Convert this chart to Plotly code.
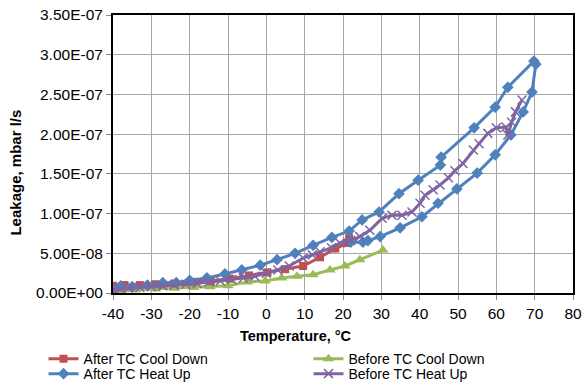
import plotly.graph_objects as go

# After TC Heat Up (blue loop)
blue_T = [-40, -38, -35, -31, -27, -23.5, -20, -15.5, -10.8, -6.4, -1.6, 2.8, 7.5, 12.2, 17.1, 21.6,
          25, 29.4, 34.6, 39.6, 45.4, 45.6, 54.2, 59.7, 63, 69.8, 70.3, 69.3, 67, 63.8, 59.7, 55,
          49.7, 44.8, 40.6, 34.9, 29.7, 26.5, 25.2, 22]
blue_L = [0.4, 0.9, 0.8, 1.0, 1.3, 1.3, 1.6, 1.9, 2.4, 2.9, 3.5, 4.2, 5.0, 6.0, 7.0, 7.8,
          9.2, 10.2, 12.5, 14.2, 16.1, 17.1, 20.8, 23.4, 25.9, 29.2, 28.8, 25.3, 22.8, 19.9, 17.4, 15.1,
          13.1, 11.3, 9.6, 8.2, 7.1, 6.6, 6.4, 6.4]

# After TC Cool Down (red)
red_T = [21.6, 21.3, 18, 14, 9.6, 4.9, 0.3, -4.5, -9.5, -14.5, -19, -24, -29, -33, -37, -40]
red_L = [6.9, 6.3, 5.6, 4.5, 3.4, 3.0, 2.6, 2.2, 1.8, 1.5, 1.4, 1.2, 1.1, 1.0, 1.0, 0.9]

# Before TC Cool Down (green)
green_T = [30.4, 24.4, 20.5, 16.6, 12.2, 8, 4, -0.3, -5, -10, -14.7, -19, -24, -29, -34, -38, -40]
green_L = [5.4, 4.2, 3.4, 2.9, 2.3, 2.1, 1.9, 1.5, 1.4, 0.9, 0.8, 0.7, 0.6, 0.5, 0.4, 0.2, 0.1]

# Before TC Heat Up (purple)
purple_T = [-40, -38, -36, -33, -30, -27, -24, -21, -18, -15, -12, -9, -6, -3, 0, 3, 6, 9.6, 12, 14,
            17, 19.2, 22, 24.4, 27, 30.2, 32.8, 35.4, 38, 40.1, 41.4, 43.5, 45.3, 47.5, 49.2, 51.3,
            54, 55.5, 57.8, 60, 62.5, 63, 64, 65, 66.7]
purple_L = [0.4, 0.5, 0.6, 0.7, 0.8, 0.9, 1.0, 1.1, 1.2, 1.4, 1.5, 1.7, 1.9, 2.1, 2.5, 2.9, 3.4, 4.4, 4.8, 5.2,
            5.7, 6.3, 6.6, 7.1, 7.9, 9.4, 9.8, 9.8, 10.2, 11.3, 12.3, 13.0, 13.6, 14.5, 15.4, 16.3,
            18.0, 18.8, 20.1, 20.8, 20.9, 19.9, 21.5, 22.8, 24.3]

SCALE = 1e-8
y_tickvals = [0, 5e-8, 1e-7, 1.5e-7, 2e-7, 2.5e-7, 3e-7, 3.5e-7]
y_ticktext = ["0.00E+00", "5.00E-08", "1.00E-07", "1.50E-07", "2.00E-07", "2.50E-07", "3.00E-07", "3.50E-07"]
x_tickvals = [-40, -30, -20, -10, 0, 10, 20, 30, 40, 50, 60, 70, 80]
x_ticktext = ["-40", "-30", "-20", "-10", "0", "10", "20", "30", "40", "50", "60", "70", "80"]
x_title = "Temperature, °C"
y_title = "Leakage, mbar l/s"

fig = go.Figure()

def add(name, T, L, color, symbol, size, legend, mline=None):
    marker = dict(symbol=symbol, size=size, color=color)
    if mline is not None:
        marker["line"] = dict(color=color, width=mline)
    fig.add_trace(go.Scatter(
        x=T, y=[v * SCALE for v in L], name=name, mode="lines+markers", showlegend=True,
        line=dict(color=color, width=3), marker=marker, legend=legend))

add("Before TC Cool Down", green_T, green_L, "#9BBB59", "triangle-up", 10, "legend2")
add("After TC Cool Down", red_T, red_L, "#C0504D", "square", 8, "legend")
add("After TC Heat Up", blue_T, blue_L, "#4F81BD", "diamond", 9, "legend3")
add("Before TC Heat Up", purple_T, purple_L, "#8064A2", "x-thin-open", 9, "legend4", mline=1.5)

font = "Liberation Sans, Arial, sans-serif"
leg_common = dict(orientation="v", yanchor="top", xanchor="left", font=dict(size=14),
                  itemwidth=30, bgcolor="rgba(0,0,0,0)", borderwidth=0, visible=True)
LX1, LX2 = -0.151, 0.425
LY1, LY2 = -0.18, -0.234

fig.update_layout(
    width=582, height=387,
    showlegend=True,
    margin=dict(l=113, r=9, t=15, b=94, autoexpand=False),
    paper_bgcolor="white", plot_bgcolor="white",
    font=dict(family=font, size=14, color="black"),
    legend=dict(x=LX1, y=LY1, **leg_common),
    legend2=dict(x=LX2, y=LY1, **leg_common),
    legend3=dict(x=LX1, y=LY2, **leg_common),
    legend4=dict(x=LX2, y=LY2, **leg_common),
    xaxis=dict(range=[-40, 80], tickvals=x_tickvals, ticktext=x_ticktext, showgrid=True,
               gridcolor="#A6A6A6", gridwidth=1,
               showline=True, linecolor="black", linewidth=2, mirror=True, zeroline=False,
               ticks="outside", ticklen=5, tickcolor="#888", tickfont=dict(size=15.5)),
    yaxis=dict(range=[0, 3.5e-7], tickvals=y_tickvals, ticktext=y_ticktext, showgrid=True,
               gridcolor="#A6A6A6", gridwidth=1, showline=True, linecolor="black", linewidth=2,
               mirror=True, zeroline=False, ticks="outside", ticklen=5, tickcolor="#888",
               tickfont=dict(size=15.5)),
    annotations=[
        dict(text="<b>" + x_title + "</b>", xref="paper", yref="paper", x=0.3978, y=-0.1547,
             xanchor="center", yanchor="middle", showarrow=False, font=dict(size=14.5)),
        dict(text="<b>" + y_title + "</b>", xref="paper", yref="paper", x=-0.212, y=0.435,
             xanchor="center", yanchor="middle", showarrow=False, textangle=-90, font=dict(size=15)),
    ],
)

fig.write_html("out.html")
